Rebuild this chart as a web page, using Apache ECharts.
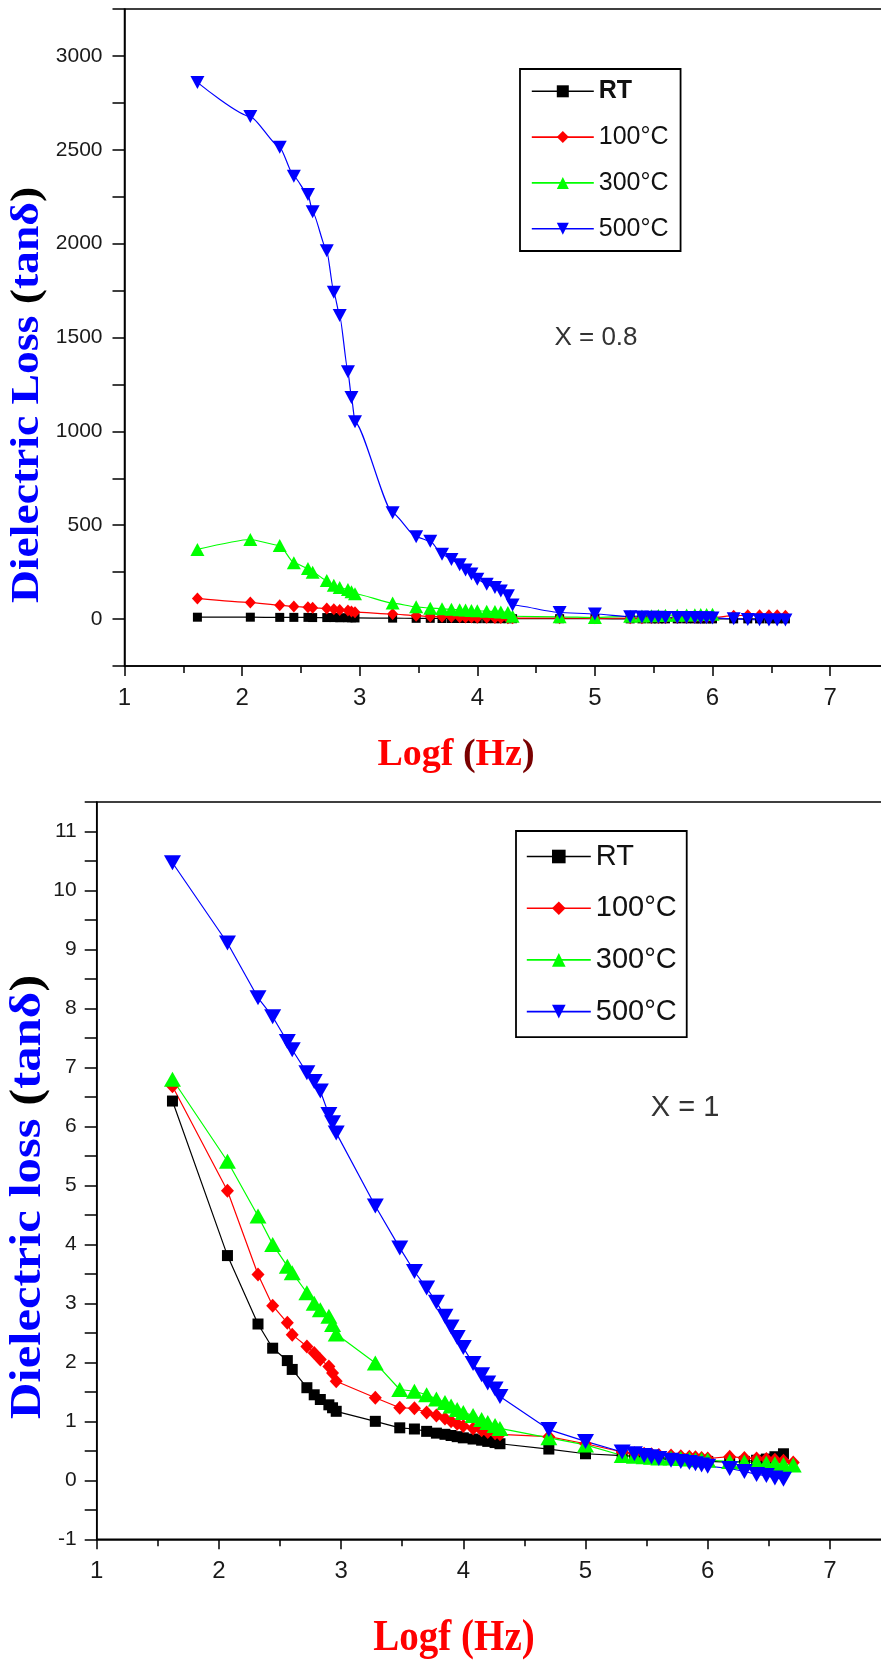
<!DOCTYPE html>
<html>
<head>
<meta charset="utf-8">
<script src="https://cdn.jsdelivr.net/npm/echarts@6/dist/echarts.min.js"></script>
<style>
  html, body { margin: 0; padding: 0; background: #ffffff; }
  #chart { width: 881px; height: 1665px; }
</style>
</head>
<body>
<div id="chart"></div>
<script>
// Measurement frequencies, log10(f / Hz)
const logf = [
  1.62, 2.07, 2.32, 2.44, 2.56, 2.60, 2.72, 2.78, 2.83, 2.90, 2.93, 2.96,
  3.28, 3.48, 3.60,
  3.70, 3.78, 3.85, 3.90, 3.95, 4.00, 4.08, 4.15, 4.20, 4.26, 4.30,
  4.70, 5.00,
  5.30, 5.40, 5.48, 5.54, 5.60, 5.70, 5.78, 5.85, 5.90, 5.95, 6.00,
  6.18, 6.30, 6.40, 6.48, 6.55, 6.62, 6.70
];

const tempNames = ['RT', '100°C', '300°C', '500°C'];

// Dielectric loss, composition X = 0.8
const lossRT_x08 = [
  10, 10, 9, 9, 9, 8, 8, 8, 7, 7, 7, 6,
  5, 4, 4,
  3, 3, 3, 3, 3, 2, 2, 2, 2, 2, 2,
  2, 2,
  1, 1, 1, 1, 1, 1, 1, 1, 1, 1, 1,
  1, 1, 1, 1, 1, 1
];
const loss100_x08 = [
  110, 88, 74, 67, 63, 60, 56, 52, 48, 45, 40, 37,
  27, 18, 14,
  12, 11, 10, 9, 8, 7, 7, 6, 6, 5, 5,
  5, 4,
  5, 5, 6, 6, 6, 7, 7, 7, 8, 8, 8,
  18, 20, 20, 20, 20, 18
];
const loss300_x08 = [
  371, 424, 392, 300, 270, 250, 205, 180, 168, 158, 145, 135,
  85, 65, 58,
  55, 52, 50, 48, 46, 44, 42, 40, 38, 35, 15,
  12, 8,
  15, 17, 18, 19, 20, 21, 22, 23, 24, 25, 26
];
const loss500_x08 = [
  2859, 2677, 2513, 2359, 2262, 2170, 1962, 1741, 1617, 1317, 1181, 1051,
  566, 438, 415,
  345, 318, 290, 262, 240, 212, 186, 168, 150, 124, 75,
  35, 27,
  12, 11, 10, 10, 9, 9, 8, 8, 7, 7, 6,
  2, -2, -4, -5, -5, -5
];

// Dielectric loss, composition X = 1
const lossRT_x1 = [
  6.43, 3.81, 2.65, 2.24, 2.03, 1.88, 1.57, 1.45, 1.37, 1.28, 1.23, 1.17,
  1.00, 0.89, 0.87,
  0.83, 0.80, 0.78, 0.76, 0.74, 0.72, 0.70, 0.68, 0.66, 0.64, 0.62,
  0.53, 0.45,
  0.42, 0.41, 0.40, 0.39, 0.38, 0.37, 0.36, 0.35, 0.34, 0.33, 0.32,
  0.31, 0.32, 0.34, 0.36, 0.40, 0.45
];
const loss100_x1 = [
  6.68, 4.91, 3.49, 2.96, 2.67, 2.47, 2.27, 2.16, 2.05, 1.93, 1.82, 1.68,
  1.40, 1.23, 1.22,
  1.15, 1.10, 1.05, 1.00, 0.96, 0.92, 0.88, 0.85, 0.82, 0.80, 0.78,
  0.74, 0.62,
  0.48, 0.46, 0.45, 0.44, 0.43, 0.42, 0.41, 0.40, 0.39, 0.38, 0.37,
  0.40, 0.38, 0.37, 0.36, 0.35, 0.33, 0.30
];
const loss300_x1 = [
  6.80, 5.41, 4.48, 4.00, 3.63, 3.52, 3.18, 3.00, 2.89, 2.78, 2.64, 2.48,
  1.99, 1.54, 1.51,
  1.45, 1.38, 1.32, 1.26, 1.20, 1.15, 1.10, 1.03, 0.98, 0.93, 0.88,
  0.72, 0.60,
  0.42, 0.41, 0.40, 0.39, 0.38, 0.38, 0.37, 0.36, 0.35, 0.35, 0.34,
  0.32, 0.31, 0.30, 0.29, 0.28, 0.27, 0.26
];
const loss500_x1 = [
  10.47, 9.11, 8.18, 7.86, 7.44, 7.30, 6.91, 6.76, 6.60, 6.20, 6.06, 5.89,
  4.65, 3.94, 3.54,
  3.26, 3.02, 2.78, 2.60, 2.42, 2.25, 1.98, 1.79, 1.65, 1.55, 1.42,
  0.86, 0.66,
  0.48, 0.45, 0.42, 0.40, 0.37, 0.34, 0.32, 0.30, 0.28, 0.26, 0.24,
  0.20, 0.15, 0.10, 0.08, 0.04, 0.02
];

const xTickLabels = [1, 2, 3, 4, 5, 6, 7];

const colors = ['#000000', '#ff0000', '#00ff00', '#0000ff'];
const symbols = ['rect', 'diamond', 'triangle', 'triangle'];
const symbolRotations = [0, 0, 0, 180];
const sizesTop = [9, [11, 12], [14, 13], [14, 13]];
const sizesBottom = [11, [13, 14], [17, 15], [17, 15]];

const SANS = '"Liberation Sans", Arial, sans-serif';
const SERIF = '"Liberation Serif", "Times New Roman", serif';

function pairs(values) {
  return values.map((v, i) => [logf[i], v]);
}

function makeSeries(valueSets, axisIndex, sizes, smooth) {
  return valueSets.map((vals, k) => ({
    name: tempNames[k],
    type: 'line',
    xAxisIndex: axisIndex,
    yAxisIndex: axisIndex,
    data: pairs(vals),
    smooth: smooth,
    smoothMonotone: 'x',
    symbol: symbols[k],
    symbolSize: sizes[k],
    symbolRotate: symbolRotations[k],
    showAllSymbol: true,
    itemStyle: { color: colors[k] },
    lineStyle: { color: colors[k], width: 1.2 },
    emphasis: { disabled: true }
  }));
}

function xAxisDef(gridIndex) {
  return {
    type: 'value',
    gridIndex: gridIndex,
    min: 1,
    max: 8,
    interval: 1,
    axisLine: { onZero: false, lineStyle: { color: '#000', width: 1.5 } },
    axisTick: { length: 10, lineStyle: { color: '#000', width: 1.5 } },
    minorTick: { show: true, splitNumber: 2, length: 7, lineStyle: { color: '#000', width: 1.5 } },
    splitLine: { show: false },
    axisLabel: {
      margin: 20,
      fontFamily: SANS,
      fontSize: 24,
      color: '#1a1a1a',
      formatter: v => (xTickLabels.indexOf(Math.round(v)) >= 0 && Math.abs(v - Math.round(v)) < 1e-6) ? String(Math.round(v)) : ''
    }
  };
}

function yAxisDef(gridIndex, min, max, interval, labelStep, margin) {
  return {
    type: 'value',
    gridIndex: gridIndex,
    min: min,
    max: max,
    interval: interval,
    axisLine: { onZero: false, lineStyle: { color: '#000', width: 1.5 } },
    axisTick: { length: 12, lineStyle: { color: '#000', width: 1.5 } },
    splitLine: { show: false },
    axisLabel: {
      margin: margin,
      fontFamily: SANS,
      fontSize: 21,
      color: '#1a1a1a',
      showMinLabel: true,
      showMaxLabel: true,
      formatter: v => {
        const q = v / labelStep;
        return Math.abs(q - Math.round(q)) < 1e-6 ? String(Math.round(v)) : '';
      }
    }
  };
}

function legendDef(left, top, fontSize, gap, pad, itemWidth, itemHeight, boldFirst) {
  return {
    orient: 'vertical',
    left: left,
    top: top,
    data: tempNames.map((n, i) => (boldFirst && i === 0)
      ? { name: n, textStyle: { fontWeight: 'bold' } }
      : { name: n }),
    selectedMode: false,
    itemWidth: itemWidth,
    itemHeight: itemHeight,
    itemGap: gap,
    padding: pad,
    borderColor: '#000',
    borderWidth: 1.8,
    borderRadius: 0,
    backgroundColor: '#ffffff',
    lineStyle: { width: 1.6 },
    textStyle: {
      fontFamily: SANS,
      fontSize: fontSize,
      lineHeight: fontSize,
      color: '#111'
    }
  };
}

const seriesTop = makeSeries([lossRT_x08, loss100_x08, loss300_x08, loss500_x08], 0, sizesTop, 0.2);
const seriesBottom = makeSeries([lossRT_x1, loss100_x1, loss300_x1, loss500_x1], 1, sizesBottom, false);

const option = {
  animation: false,
  backgroundColor: '#ffffff',
  grid: [
    { left: 124.5, top: 9, width: 7 * 117.6, height: 657,
      show: true, borderColor: '#000', borderWidth: 1.5,
      containLabel: false, outerBoundsMode: 'none' },
    { left: 96.7, top: 802, width: 7 * 122.2, height: 737.3,
      show: true, borderColor: '#000', borderWidth: 1.5,
      containLabel: false, outerBoundsMode: 'none' }
  ],
  xAxis: [xAxisDef(0), xAxisDef(1)],
  yAxis: [
    yAxisDef(0, -250, 3250, 250, 500, 22),
    yAxisDef(1, -1, 11.5, 0.5, 1, 20)
  ],
  legend: [
    legendDef(520, 69, 25, 20.8, [9.8, 12, 9.8, 11], 62, 15, true),
    legendDef(516, 831, 29, 22.7, [11, 10, 11, 10], 64, 17, false)
  ],
  series: seriesTop.concat(seriesBottom),
  graphic: [
    // axis titles and composition labels
    {
      type: 'text', x: 456, y: 755,
      style: {
        text: '{a|Logf }{p|(}{a|Hz}{p|)}',
        align: 'center', verticalAlign: 'middle',
        rich: {
          a: { fontFamily: SERIF, fontWeight: 'bold', fontSize: 38, fill: '#ff0000' },
          p: { fontFamily: SERIF, fontWeight: 'bold', fontSize: 38, fill: '#7a0000' }
        }
      }
    },
    {
      type: 'text', x: 454, y: 1638, scaleY: 1.15,
      style: {
        text: 'Logf (Hz)',
        align: 'center', verticalAlign: 'middle',
        fontFamily: SERIF, fontWeight: 'bold', fontSize: 39, fill: '#ff0000'
      }
    },
    {
      type: 'text', x: 28, y: 395, rotation: Math.PI / 2, scaleX: 1.14,
      style: {
        text: '{a|Dielectric Loss }{p|(}{a|tanδ}{p|)}',
        align: 'center', verticalAlign: 'middle',
        rich: {
          a: { fontFamily: SERIF, fontWeight: 'bold', fontSize: 40, fill: '#0000ff' },
          p: { fontFamily: SERIF, fontWeight: 'bold', fontSize: 40, fill: '#000000' }
        }
      }
    },
    {
      type: 'text', x: 28, y: 1197, rotation: Math.PI / 2, scaleX: 1.13,
      style: {
        text: '{a|Dielectric loss }{p|(}{a|tanδ}{p|)}',
        align: 'center', verticalAlign: 'middle',
        rich: {
          a: { fontFamily: SERIF, fontWeight: 'bold', fontSize: 45, fill: '#0000ff' },
          p: { fontFamily: SERIF, fontWeight: 'bold', fontSize: 45, fill: '#000000' }
        }
      }
    },
    {
      type: 'text', x: 596, y: 338,
      style: {
        text: 'X = 0.8', align: 'center', verticalAlign: 'middle',
        fontFamily: SANS, fontSize: 26, fill: '#333333'
      }
    },
    {
      type: 'text', x: 685, y: 1108,
      style: {
        text: 'X = 1', align: 'center', verticalAlign: 'middle',
        fontFamily: SANS, fontSize: 29, fill: '#333333'
      }
    }
  ]
};

const chart = echarts.init(document.getElementById('chart'), null, { renderer: 'canvas' });
chart.setOption(option);
</script>
</body>
</html>
